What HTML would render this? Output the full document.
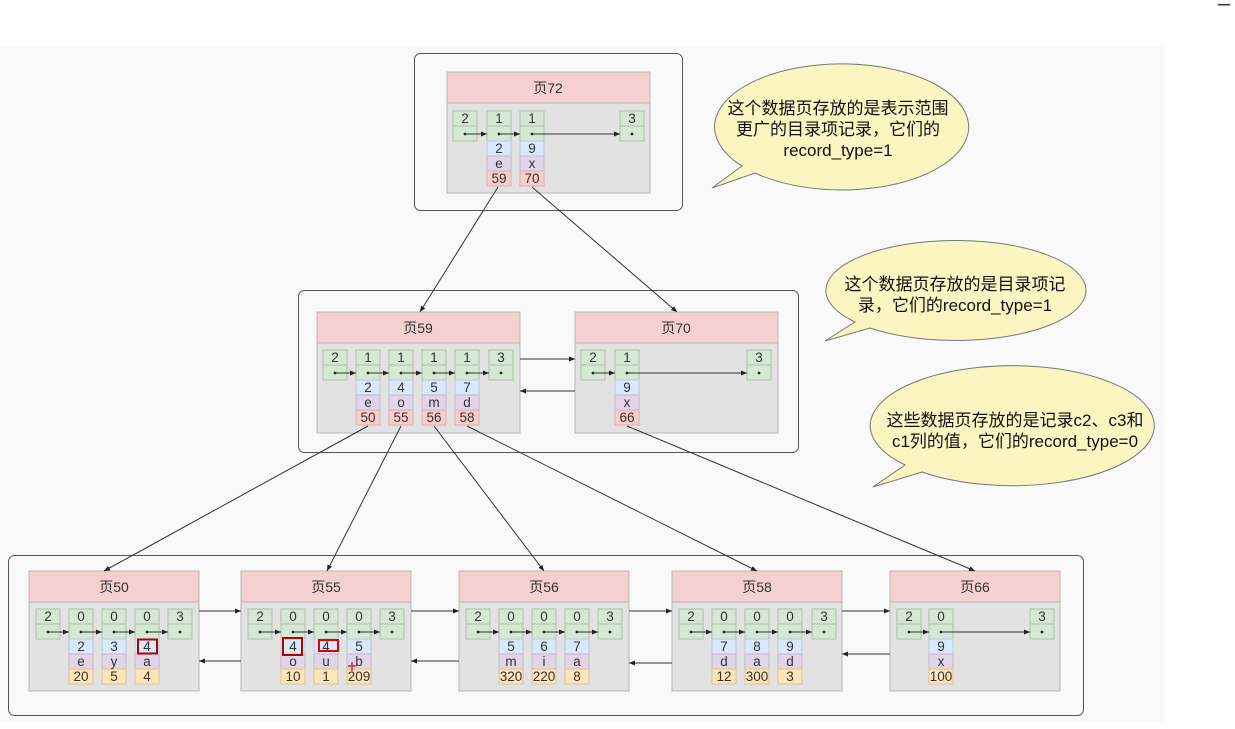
<!DOCTYPE html>
<html><head><meta charset="utf-8"><style>
html,body{margin:0;padding:0;background:#fff;}
svg{display:block;}
text{font-family:"Liberation Sans","Noto Sans CJK SC",sans-serif;}
.c{font-size:13.5px;fill:#333;text-anchor:middle;}
.h{font-size:14px;fill:#333;text-anchor:middle;}
.b{font-size:17px;fill:#111;text-anchor:middle;}
.ln{stroke:#333;stroke-width:1;fill:none;}
</style></head><body>
<svg width="1235" height="729" viewBox="0 0 1235 729" xmlns="http://www.w3.org/2000/svg">
<defs>
<marker id="a" markerWidth="6" markerHeight="6" refX="6" refY="3" orient="auto" markerUnits="userSpaceOnUse"><path d="M0,0.5 L6,3 L0,5.5 z" fill="#222"/></marker>
<g id="nc"><rect x="0" y="0" width="24" height="15" fill="#d5e8d4" stroke="#a9c3a6"/><rect x="0" y="15" width="24" height="15" fill="#d5e8d4" stroke="#a9c3a6"/><circle cx="12" cy="23" r="1.4" fill="#222"/></g>
<g id="x3p"><rect x="0" y="30" width="24" height="15" fill="#dae8fc" stroke="#b8c8de"/><rect x="0" y="45" width="24" height="15" fill="#e1d5e7" stroke="#c6b8cc"/><rect x="0" y="60" width="24" height="15" fill="#f8cecc" stroke="#d8b0ae"/></g>
<g id="x3y"><rect x="0" y="30" width="24" height="15" fill="#dae8fc" stroke="#b8c8de"/><rect x="0" y="45" width="24" height="15" fill="#e1d5e7" stroke="#c6b8cc"/><rect x="0" y="60" width="24" height="15" fill="#fde5b8" stroke="#d9c49a"/></g>
</defs>
<rect x="0" y="45" width="1165" height="677" fill="#f9f9f9"/>
<rect x="1218" y="4" width="12" height="1.5" fill="#333"/>

<rect x="414.5" y="53.5" width="268" height="157" rx="6" fill="#f9f9f9" stroke="#555"/>
<rect x="298.5" y="290.5" width="500" height="162" rx="6" fill="#f9f9f9" stroke="#555"/>
<rect x="8.5" y="555.5" width="1075" height="160" rx="6" fill="#f9f9f9" stroke="#555"/>

<g stroke="#b8b8b8">
<rect x="447" y="72" width="203" height="121" fill="#e2e2e2"/><rect x="447" y="72" width="203" height="31" fill="#f5d0d0"/>
<rect x="317" y="312" width="203" height="121" fill="#e2e2e2"/><rect x="317" y="312" width="203" height="31" fill="#f5d0d0"/>
<rect x="575" y="312" width="203" height="121" fill="#e2e2e2"/><rect x="575" y="312" width="203" height="31" fill="#f5d0d0"/>
<rect x="29" y="571" width="170" height="120" fill="#e2e2e2"/><rect x="29" y="571" width="170" height="31" fill="#f5d0d0"/>
<rect x="241" y="571" width="170" height="120" fill="#e2e2e2"/><rect x="241" y="571" width="170" height="31" fill="#f5d0d0"/>
<rect x="459" y="571" width="170" height="120" fill="#e2e2e2"/><rect x="459" y="571" width="170" height="31" fill="#f5d0d0"/>
<rect x="672" y="571" width="170" height="120" fill="#e2e2e2"/><rect x="672" y="571" width="170" height="31" fill="#f5d0d0"/>
<rect x="890" y="571" width="170" height="120" fill="#e2e2e2"/><rect x="890" y="571" width="170" height="31" fill="#f5d0d0"/>
</g>
<text class="h" x="548" y="93">页72</text>
<text class="h" x="418" y="333">页59</text>
<text class="h" x="676" y="333">页70</text>
<text class="h" x="114" y="592">页50</text>
<text class="h" x="326" y="592">页55</text>
<text class="h" x="544" y="592">页56</text>
<text class="h" x="757" y="592">页58</text>
<text class="h" x="975" y="592">页66</text>

<g transform="translate(0,111)">
<use href="#nc" x="453"/><use href="#nc" x="487"/><use href="#x3p" x="487"/><use href="#nc" x="520"/><use href="#x3p" x="520"/><use href="#nc" x="620"/>
<text class="c" x="465" y="12">2</text><text class="c" x="499" y="12">1</text><text class="c" x="532" y="12">1</text><text class="c" x="632" y="12">3</text>
<text class="c" x="499" y="42">2</text><text class="c" x="499" y="57">e</text><text class="c" x="499" y="72">59</text>
<text class="c" x="532" y="42">9</text><text class="c" x="532" y="57">x</text><text class="c" x="532" y="72">70</text>
<g class="ln" marker-end="url(#a)"><line x1="465" y1="23" x2="487" y2="23"/><line x1="499" y1="23" x2="520" y2="23"/><line x1="532" y1="23" x2="620" y2="23"/></g>
</g>

<g transform="translate(0,350)">
<use href="#nc" x="323"/><use href="#nc" x="356"/><use href="#x3p" x="356"/><use href="#nc" x="389"/><use href="#x3p" x="389"/><use href="#nc" x="422"/><use href="#x3p" x="422"/><use href="#nc" x="455"/><use href="#x3p" x="455"/><use href="#nc" x="489"/>
<text class="c" x="335" y="12">2</text><text class="c" x="368" y="12">1</text><text class="c" x="401" y="12">1</text><text class="c" x="434" y="12">1</text><text class="c" x="467" y="12">1</text><text class="c" x="501" y="12">3</text>
<text class="c" x="368" y="42">2</text><text class="c" x="368" y="57">e</text><text class="c" x="368" y="72">50</text>
<text class="c" x="401" y="42">4</text><text class="c" x="401" y="57">o</text><text class="c" x="401" y="72">55</text>
<text class="c" x="434" y="42">5</text><text class="c" x="434" y="57">m</text><text class="c" x="434" y="72">56</text>
<text class="c" x="467" y="42">7</text><text class="c" x="467" y="57">d</text><text class="c" x="467" y="72">58</text>
<g class="ln" marker-end="url(#a)"><line x1="335" y1="23" x2="356" y2="23"/><line x1="368" y1="23" x2="389" y2="23"/><line x1="401" y1="23" x2="422" y2="23"/><line x1="434" y1="23" x2="455" y2="23"/><line x1="467" y1="23" x2="489" y2="23"/></g>
<use href="#nc" x="581"/><use href="#nc" x="615"/><use href="#x3p" x="615"/><use href="#nc" x="747"/>
<text class="c" x="593" y="12">2</text><text class="c" x="627" y="12">1</text><text class="c" x="759" y="12">3</text>
<text class="c" x="627" y="42">9</text><text class="c" x="627" y="57">x</text><text class="c" x="627" y="72">66</text>
<g class="ln" marker-end="url(#a)"><line x1="593" y1="23" x2="615" y2="23"/><line x1="627" y1="23" x2="747" y2="23"/></g>
</g>

<g transform="translate(0,609)">
<use href="#nc" x="36"/><use href="#nc" x="69"/><use href="#x3y" x="69"/><use href="#nc" x="102"/><use href="#x3y" x="102"/><use href="#nc" x="135"/><use href="#x3y" x="135"/><use href="#nc" x="168"/>
<text class="c" x="48" y="12">2</text><text class="c" x="81" y="12">0</text><text class="c" x="114" y="12">0</text><text class="c" x="147" y="12">0</text><text class="c" x="180" y="12">3</text>
<text class="c" x="81" y="42">2</text><text class="c" x="81" y="57">e</text><text class="c" x="81" y="72">20</text>
<text class="c" x="114" y="42">3</text><text class="c" x="114" y="57">y</text><text class="c" x="114" y="72">5</text>
<text class="c" x="147" y="42">4</text><text class="c" x="147" y="57">a</text><text class="c" x="147" y="72">4</text>
<rect x="138" y="30.5" width="19" height="14" fill="none" stroke="#b00000" stroke-width="2"/>
<g class="ln" marker-end="url(#a)"><line x1="48" y1="23" x2="69" y2="23"/><line x1="81" y1="23" x2="102" y2="23"/><line x1="114" y1="23" x2="135" y2="23"/><line x1="147" y1="23" x2="168" y2="23"/></g>
<use href="#nc" x="248"/><use href="#nc" x="281"/><use href="#x3y" x="281"/><use href="#nc" x="314"/><use href="#x3y" x="314"/><use href="#nc" x="347"/><use href="#x3y" x="347"/><use href="#nc" x="380"/>
<text class="c" x="260" y="12">2</text><text class="c" x="293" y="12">0</text><text class="c" x="326" y="12">0</text><text class="c" x="359" y="12">0</text><text class="c" x="392" y="12">3</text>
<text class="c" x="293" y="42">4</text><text class="c" x="293" y="57">o</text><text class="c" x="293" y="72">10</text>
<text class="c" x="326" y="42">4</text><text class="c" x="326" y="57">u</text><text class="c" x="326" y="72">1</text>
<text class="c" x="359" y="42">5</text><text class="c" x="359" y="57">b</text><text class="c" x="359" y="72">209</text>
<rect x="283" y="29" width="19" height="17" fill="none" stroke="#b00000" stroke-width="2"/>
<rect x="319" y="31" width="19" height="11" fill="none" stroke="#e00000" stroke-width="2"/>
<path d="M348,57 h8 M352,53 v9" stroke="#e02040" stroke-width="1.5"/>
<g class="ln" marker-end="url(#a)"><line x1="260" y1="23" x2="281" y2="23"/><line x1="293" y1="23" x2="314" y2="23"/><line x1="326" y1="23" x2="347" y2="23"/><line x1="359" y1="23" x2="380" y2="23"/></g>
<use href="#nc" x="466"/><use href="#nc" x="499"/><use href="#x3y" x="499"/><use href="#nc" x="532"/><use href="#x3y" x="532"/><use href="#nc" x="565"/><use href="#x3y" x="565"/><use href="#nc" x="598"/>
<text class="c" x="478" y="12">2</text><text class="c" x="511" y="12">0</text><text class="c" x="544" y="12">0</text><text class="c" x="577" y="12">0</text><text class="c" x="610" y="12">3</text>
<text class="c" x="511" y="42">5</text><text class="c" x="511" y="57">m</text><text class="c" x="511" y="72">320</text>
<text class="c" x="544" y="42">6</text><text class="c" x="544" y="57">i</text><text class="c" x="544" y="72">220</text>
<text class="c" x="577" y="42">7</text><text class="c" x="577" y="57">a</text><text class="c" x="577" y="72">8</text>
<g class="ln" marker-end="url(#a)"><line x1="478" y1="23" x2="499" y2="23"/><line x1="511" y1="23" x2="532" y2="23"/><line x1="544" y1="23" x2="565" y2="23"/><line x1="577" y1="23" x2="598" y2="23"/></g>
<use href="#nc" x="679"/><use href="#nc" x="712"/><use href="#x3y" x="712"/><use href="#nc" x="745"/><use href="#x3y" x="745"/><use href="#nc" x="778"/><use href="#x3y" x="778"/><use href="#nc" x="812"/>
<text class="c" x="691" y="12">2</text><text class="c" x="724" y="12">0</text><text class="c" x="757" y="12">0</text><text class="c" x="790" y="12">0</text><text class="c" x="824" y="12">3</text>
<text class="c" x="724" y="42">7</text><text class="c" x="724" y="57">d</text><text class="c" x="724" y="72">12</text>
<text class="c" x="757" y="42">8</text><text class="c" x="757" y="57">a</text><text class="c" x="757" y="72">300</text>
<text class="c" x="790" y="42">9</text><text class="c" x="790" y="57">d</text><text class="c" x="790" y="72">3</text>
<g class="ln" marker-end="url(#a)"><line x1="691" y1="23" x2="712" y2="23"/><line x1="724" y1="23" x2="745" y2="23"/><line x1="757" y1="23" x2="778" y2="23"/><line x1="790" y1="23" x2="812" y2="23"/></g>
<use href="#nc" x="897"/><use href="#nc" x="929"/><use href="#x3y" x="929"/><use href="#nc" x="1030"/>
<text class="c" x="909" y="12">2</text><text class="c" x="941" y="12">0</text><text class="c" x="1042" y="12">3</text>
<text class="c" x="941" y="42">9</text><text class="c" x="941" y="57">x</text><text class="c" x="941" y="72">100</text>
<g class="ln" marker-end="url(#a)"><line x1="909" y1="23" x2="929" y2="23"/><line x1="941" y1="23" x2="1030" y2="23"/></g>
</g>

<g class="ln" marker-end="url(#a)">
<line x1="520" y1="359" x2="575" y2="359"/><line x1="575" y1="391" x2="520" y2="391"/>
<line x1="199" y1="611" x2="241" y2="611"/><line x1="241" y1="661" x2="199" y2="661"/>
<line x1="411" y1="611" x2="459" y2="611"/><line x1="459" y1="661" x2="411" y2="661"/>
<line x1="629" y1="611" x2="672" y2="611"/><line x1="672" y1="663" x2="629" y2="663"/>
<line x1="842" y1="611" x2="890" y2="611"/><line x1="890" y1="654" x2="842" y2="654"/>
<line x1="498" y1="187" x2="420" y2="312"/>
<line x1="532" y1="187" x2="677" y2="312"/>
<line x1="368" y1="426" x2="104" y2="571"/>
<line x1="401" y1="426" x2="327" y2="571"/>
<line x1="434" y1="426" x2="544" y2="571"/>
<line x1="467" y1="426" x2="757" y2="571"/>
<line x1="627" y1="426" x2="975" y2="571"/>
</g>

<g fill="#fbf5c2" stroke="#777" stroke-width="1">
<path d="M742,166 L712,188 L755,173 A127,63 0 1 0 742,166 Z"/>
<path d="M855,322 L825,341 L870,328 A130,50 0 1 0 855,322 Z"/>
<path d="M905,465 L873,487 L922,472 A142,60 0 1 0 905,465 Z"/>
</g>
<text class="b" x="838" y="114">这个数据页存放的是表示范围</text>
<text class="b" x="838" y="135">更广的目录项记录，它们的</text>
<text class="b" x="838" y="156">record_type=1</text>
<text class="b" x="955" y="290">这个数据页存放的是目录项记</text>
<text class="b" x="955" y="311">录，它们的record_type=1</text>
<text class="b" x="1015" y="426">这些数据页存放的是记录c2、c3和</text>
<text class="b" x="1015" y="447">c1列的值，它们的record_type=0</text>
</svg>
</body></html>
